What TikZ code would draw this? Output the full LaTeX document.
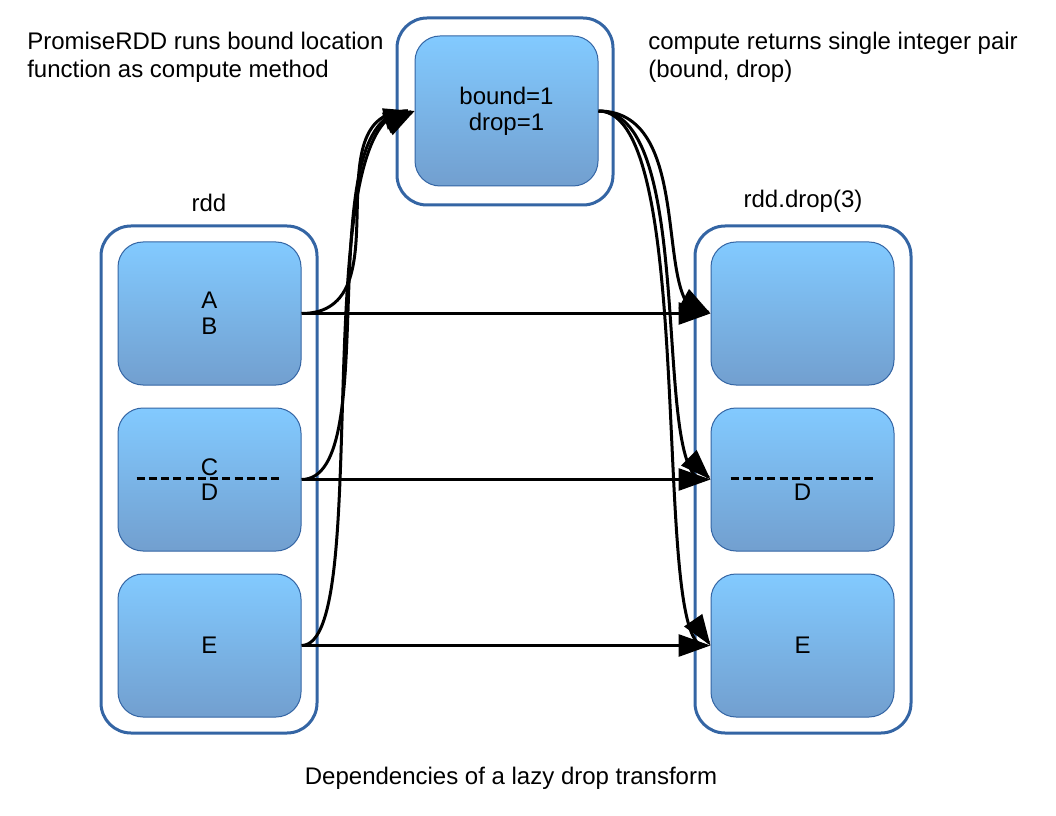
\documentclass[tikz,border=0pt]{standalone}
\usepackage{fontspec}
\setmainfont{Liberation Sans}
\usetikzlibrary{arrows.meta,calc}
\definecolor{frame}{RGB}{52,101,164}
\definecolor{boxtop}{RGB}{130,202,255}
\definecolor{boxbot}{RGB}{114,159,207}
\begin{document}
\begin{tikzpicture}[x=0.75pt,y=-0.75pt,
  container/.style={draw=frame,line width=2.25pt,rounded corners=22.5pt,fill=white,minimum width=162pt,inner sep=0pt},
  part/.style={draw=frame,line width=0.75pt,rounded corners=18.75pt,top color=boxtop,bottom color=boxbot,
    minimum width=137.25pt,minimum height=107.25pt,inner sep=0pt,align=center,font=\fontsize{18}{19.3}\selectfont},
  txt/.style={inner sep=0pt,font=\fontsize{18}{21}\selectfont},
  conn/.style={line width=2.25pt,-{Triangle[length=24pt,width=16.5pt]}},
  curve/.style={line width=2.25pt,shorten >=5pt},
  tip/.style={line width=2.25pt,-{Triangle[length=23pt,width=16pt]}},
  sep/.style={line width=2.25pt,dash pattern=on 6pt off 3.2pt}]
\useasboundingbox (0,0) rectangle (1056,816);
% containers
\node[container,minimum height=380.25pt] (lo) at (209,479.5) {};
\node[container,minimum height=380.25pt] (ro) at (803,479.5) {};
\node[container,minimum height=140.25pt] (to) at (505,111.5) {};
% partitions
\node[part] (l1) at (209.5,313.5) {A\\B};
\node[part] (l2) at (209.5,479.5) {C\\D};
\node[part] (l3) at (209.5,645.5) {E};
\node[part] (r1) at (802.5,313.5) {};
\node[part] (r2) at (802.5,479.5) {\phantom{C}\\D};
\node[part] (r3) at (802.5,645.5) {E};
\node[part,minimum height=112.5pt] (t1) at (506.5,111) {bound=1\\drop=1};
% separators
\draw[sep] ([xshift=14.25pt,yshift=1pt]l2.west) -- ([xshift=-13.5pt,yshift=1pt]l2.east);
\draw[sep] ([xshift=15pt,yshift=0.5pt]r2.west) -- ([xshift=-13.5pt,yshift=0.5pt]r2.east);
% labels
\node[txt] (lbl) at (209,203) {rdd};
\node[txt] (rbl) at (803,201) {rdd.drop(3)};
\node[txt,anchor=north west,align=left] (note1) at (27,32) {PromiseRDD runs bound location\\function as compute method};
\node[txt,anchor=north west,align=left] (note2) at (648,32) {compute returns single integer pair\\(bound, drop)};
\node[txt] (cap) at (511,778) {Dependencies of a lazy drop transform};
% straight arrows
\draw[conn] (l1.east) -- (r1.west);
\draw[conn] (l2.east) -- (r2.west);
\draw[conn] (l3.east) -- (r3.west);
% curves to compute
\draw[curve] (l1.east) .. controls +(105,0) and +(-105,0) .. (t1.west) coordinate[pos=0.88] (c1);
\draw[curve] (l2.east) .. controls +(85,0) and +(-108,0) .. (t1.west) coordinate[pos=0.89] (c2);
\draw[curve] (l3.east) .. controls +(74,0) and +(-111,0) .. (t1.west) coordinate[pos=0.9] (c3);
\draw[tip] ($(c1)!0.9!(t1.west)$) -- (t1.west);
\draw[tip] ($(c2)!0.9!(t1.west)$) -- (t1.west);
\draw[tip] ($(c3)!0.9!(t1.west)$) -- (t1.west);
% curves from compute
\draw[curve] (t1.east) .. controls +(100,0) and +(-60,0) .. (r1.west) coordinate[pos=0.86] (d1);
\draw[curve] (t1.east) .. controls +(100,0) and +(-60,0) .. (r2.west) coordinate[pos=0.86] (d2);
\draw[curve] (t1.east) .. controls +(100,0) and +(-60,0) .. (r3.west) coordinate[pos=0.86] (d3);
\draw[tip] ($(d1)!0.9!(r1.west)$) -- (r1.west);
\draw[tip] ($(d2)!0.9!(r2.west)$) -- (r2.west);
\draw[tip] ($(d3)!0.9!(r3.west)$) -- (r3.west);
\end{tikzpicture}
\end{document}
